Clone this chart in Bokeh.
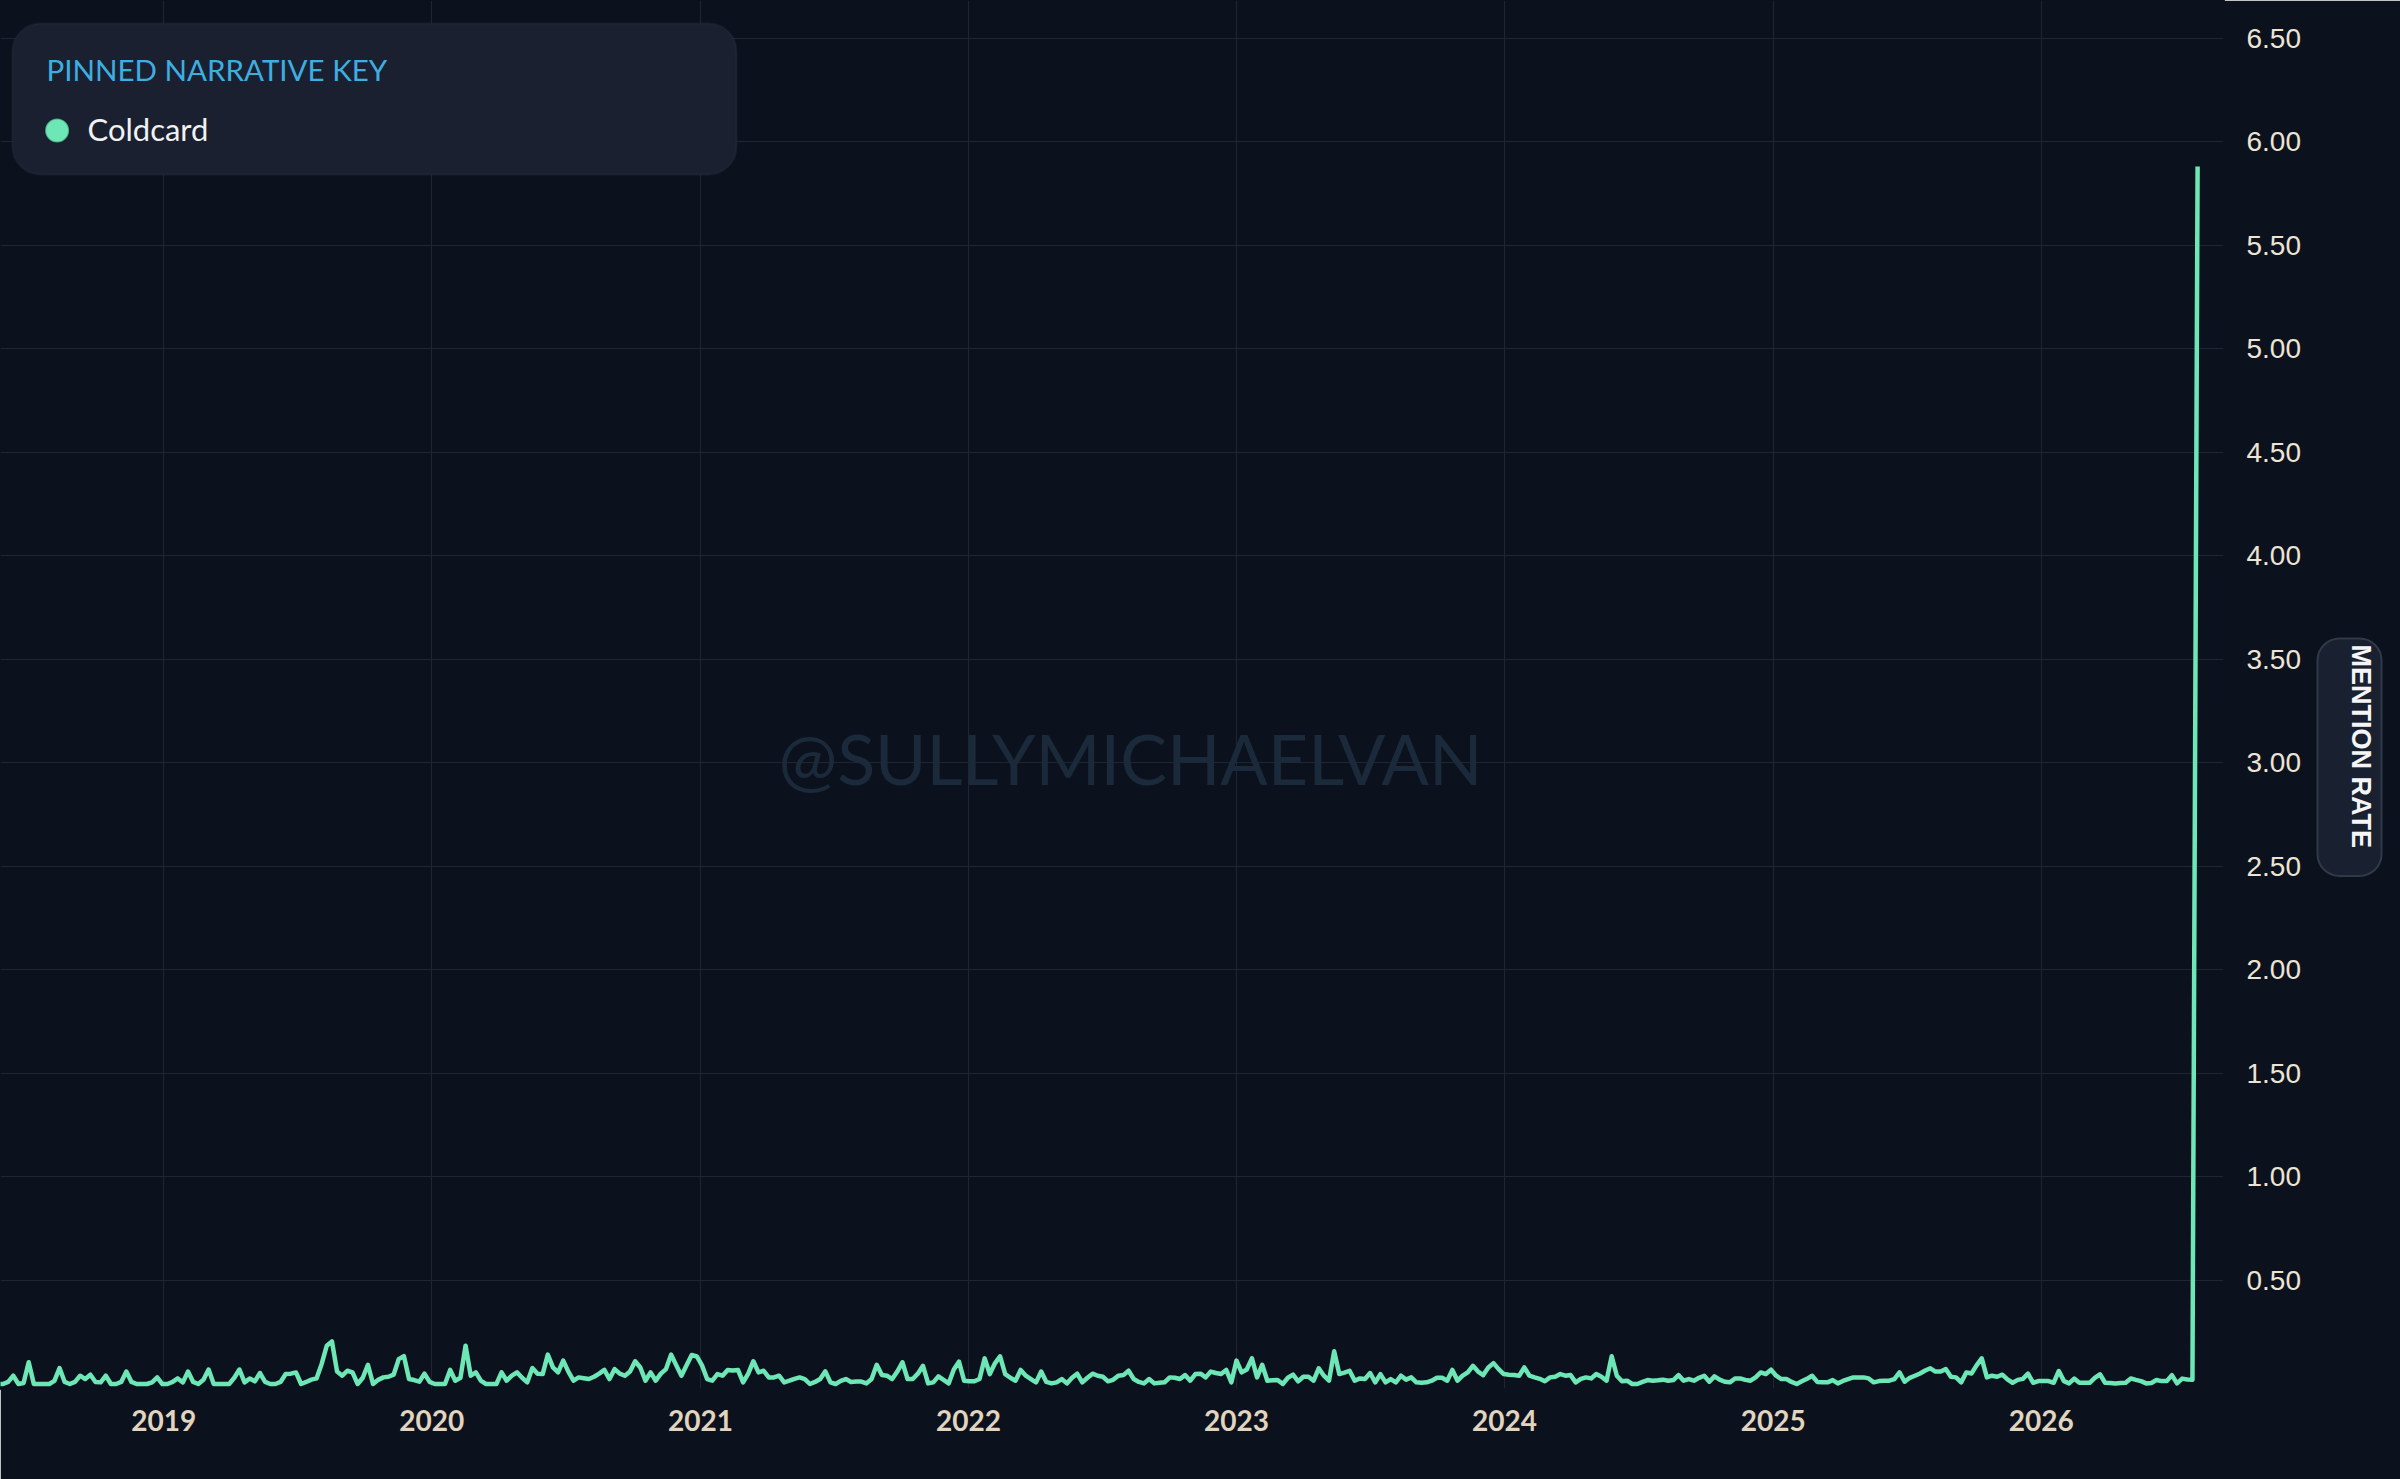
import pandas as pd
from bokeh.plotting import figure
from bokeh.models import (Range1d, FixedTicker, DatetimeTickFormatter, NumeralTickFormatter,
                          Label, BoxAnnotation, ColumnDataSource, Title)
from bokeh.embed import file_html
from bokeh.resources import INLINE

# ---------------- data (weekly mention rate) ----------------
first_week = "2018-05-20"

rate_2018 = [0, 0, 0.01, 0.04, 0, 0.005, 0.105, 0, 0, 0, 0, 0.015, 0.077, 0.01, 0, 0.01,
             0.04, 0.024, 0.045, 0.01, 0.008, 0.04, 0, 0, 0.01, 0.06, 0.01, 0, 0, 0, 0.008,
             0.032, 0]
rate_2019 = [0, 0.01, 0.027, 0.008, 0.06, 0.01, 0, 0.02, 0.07, 0, 0, 0, 0, 0.03, 0.07,
             0.008, 0.027, 0.013, 0.053, 0.01, 0, 0, 0.01, 0.048, 0.05, 0.056, 0, 0.01,
             0.021, 0.027, 0.097, 0.185, 0.206, 0.06, 0.04, 0.064, 0.056, 0, 0.03, 0.093,
             0, 0.02, 0.032, 0.035, 0.045, 0.12, 0.135, 0.024, 0.019, 0.011, 0.05, 0.01]
rate_2020 = [0, 0, 0, 0.068, 0.016, 0.03, 0.185, 0.04, 0.056, 0.015, 0, 0, 0, 0.056, 0.016,
             0.04, 0.056, 0.03, 0.008, 0.077, 0.05, 0.048, 0.142, 0.08, 0.056, 0.113, 0.06,
             0.016, 0.032, 0.028, 0.024, 0.035, 0.05, 0.068, 0.024, 0.072, 0.05, 0.04, 0.06,
             0.11, 0.08, 0.016, 0.056, 0.016, 0.05, 0.072, 0.142, 0.09, 0.04, 0.09, 0.14,
             0.133]
rate_2021 = [0.09, 0.024, 0.016, 0.048, 0.04, 0.068, 0.065, 0.068, 0.008, 0.05, 0.11, 0.056,
             0.064, 0.032, 0.032, 0.04, 0.008, 0.016, 0.025, 0.032, 0.024, 0, 0.01, 0.024,
             0.061, 0.008, 0, 0.015, 0.024, 0.01, 0.012, 0.012, 0.003, 0.024, 0.093, 0.043,
             0.04, 0.024, 0.06, 0.105, 0.024, 0.024, 0.05, 0.088, 0.003, 0.008, 0.037, 0.02,
             0.003, 0.07, 0.108, 0.016]
rate_2022 = [0.013, 0.013, 0.024, 0.124, 0.048, 0.1, 0.134, 0.048, 0.03, 0.016, 0.068, 0.04,
             0.024, 0.008, 0.06, 0.01, 0.003, 0.008, 0.024, 0.003, 0.03, 0.05, 0.008, 0.03,
             0.05, 0.04, 0.035, 0.013, 0.02, 0.04, 0.043, 0.064, 0.024, 0.01, 0.003, 0.024,
             0.003, 0.006, 0.008, 0.032, 0.03, 0.024, 0.043, 0.016, 0.048, 0.05, 0.032, 0.06,
             0.053, 0.048, 0.068, 0.008]
rate_2023 = [0.113, 0.056, 0.07, 0.124, 0.032, 0.093, 0.016, 0.018, 0.019, 0, 0.03, 0.045,
             0.013, 0.035, 0.035, 0.016, 0.076, 0.04, 0.016, 0.158, 0.048, 0.055, 0.064,
             0.016, 0.027, 0.024, 0.053, 0.008, 0.048, 0.008, 0.024, 0.008, 0.04, 0.021,
             0.032, 0.008, 0.006, 0.008, 0.016, 0.03, 0.03, 0.016, 0.068, 0.016, 0.04, 0.056,
             0.088, 0.06, 0.043, 0.08, 0.101, 0.072, 0.048]
rate_2024 = [0.045, 0.043, 0.04, 0.08, 0.04, 0.032, 0.025, 0.013, 0.032, 0.035, 0.048, 0.04,
             0.043, 0.008, 0.025, 0.032, 0.027, 0.048, 0.035, 0.016, 0.134, 0.04, 0.013,
             0.016, 0, 0, 0.01, 0.019, 0.016, 0.018, 0.021, 0.016, 0.019, 0.043, 0.016, 0.024,
             0.016, 0.03, 0.04, 0.011, 0.037, 0.021, 0.011, 0.008, 0.027, 0.027, 0.02, 0.016,
             0.032, 0.056, 0.048, 0.069]
rate_2025 = [0.04, 0.024, 0.024, 0.01, 0, 0.013, 0.025, 0.04, 0.01, 0.008, 0.008, 0.019,
             0.003, 0.015, 0.024, 0.032, 0.032, 0.032, 0.027, 0.008, 0.014, 0.016, 0.016,
             0.024, 0.056, 0.011, 0.03, 0.04, 0.051, 0.065, 0.076, 0.06, 0.06, 0.072, 0.035,
             0.032, 0.008, 0.056, 0.051, 0.09, 0.124, 0.032, 0.04, 0.035, 0.045, 0.022, 0.006,
             0.02, 0.025, 0.05, 0.006, 0.014]
rate_2026 = [0.014, 0.014, 0.006, 0.063, 0.014, 0.003, 0.026, 0.006, 0.006, 0.006, 0.03,
             0.047, 0.006, 0.005, 0.003, 0.005, 0.006, 0.027, 0.02, 0.014, 0.003, 0.005, 0.019,
             0.014, 0.014, 0.043, 0.003, 0.026, 0.022, 0.02, 5.88]

year_ticks = [2019, 2020, 2021, 2022, 2023, 2024, 2025, 2026]
rate_ticks = [0.5, 1.0, 1.5, 2.0, 2.5, 3.0, 3.5, 4.0, 4.5, 5.0, 5.5, 6.0, 6.5]

series_name = "Coldcard"
legend_title = "PINNED NARRATIVE KEY"
axis_title = "MENTION RATE"
watermark = "@SULLYMICHAELVAN"

# ---------------- build ----------------
rate = (rate_2018 + rate_2019 + rate_2020 + rate_2021 + rate_2022 + rate_2023
        + rate_2024 + rate_2025 + rate_2026)
dates = pd.date_range(first_week, periods=len(rate), freq="7D")
src = ColumnDataSource(dict(date=dates, rate=rate))

BG = "#0c121d"
GRID = "#1f2633"
MINT = "#6ee7b7"
PANEL = "#1a2030"
PANEL_EDGE = "#2b3444"

W, H = 2400, 1479
FB = 1388  # frame bottom (frame top at 0)

p = figure(width=W, height=H, x_axis_type="datetime", y_axis_location="right",
           x_range=Range1d(pd.Timestamp("2018-05-23 14:00"), pd.Timestamp("2026-09-06 07:00")),
           y_range=Range1d(-0.0217, 6.682),
           output_backend="svg", toolbar_location=None,
           min_border_left=0, min_border_top=0, min_border_right=W - 2223,
           min_border_bottom=H - FB,
           background_fill_color=BG, border_fill_color=BG,
           outline_line_color=BG, outline_line_width=3)

p.line("date", "rate", source=src, line_color=MINT, line_width=4.5, line_join="round")

# axes
p.xaxis.ticker = FixedTicker(ticks=[pd.Timestamp(f"{y}-01-01").value // 10**6 for y in year_ticks])
p.xaxis.formatter = DatetimeTickFormatter(years="%Y", months="%Y", days="%Y", hours="%Y",
                                          hourmin="%Y", minutes="%Y", minsec="%Y",
                                          seconds="%Y", milliseconds="%Y", microseconds="%Y")
p.yaxis.ticker = FixedTicker(ticks=rate_ticks)
p.yaxis.formatter = NumeralTickFormatter(format="0.00")

for ax in (p.xaxis[0], p.yaxis[0]):
    ax.axis_line_color = None
    ax.major_tick_line_color = None
    ax.minor_tick_line_color = None
    ax.major_tick_out = 0
    ax.major_tick_in = 0
    ax.minor_tick_out = 0

p.xaxis.major_label_text_font = "Lato"
p.xaxis.major_label_text_font_style = "bold"
p.xaxis.major_label_text_font_size = "28px"
p.xaxis.major_label_text_color = "#e2d5bf"
p.xaxis.major_label_standoff = 21

p.yaxis.major_label_text_font = "Liberation Sans"
p.yaxis.major_label_text_font_size = "28px"
p.yaxis.major_label_text_color = "#ece4d4"
p.yaxis.major_label_standoff = 23

p.xgrid.grid_line_color = GRID
p.ygrid.grid_line_color = GRID
p.xgrid.grid_line_width = 1
p.ygrid.grid_line_width = 1

# axis title badge on the right (side panel, outside the tick labels)
p.add_layout(Title(text=axis_title, align="left", offset=638, standoff=28,
                   text_font="Liberation Sans", text_font_style="bold",
                   text_font_size="27px", text_color="#f5f5f5",
                   background_fill_color="#192030", border_line_color="#2f3948",
                   border_line_width=2, border_radius=22, padding=(6, 28, 6, 28)),
             "right")

# watermark
p.add_layout(Label(x=1130, y=FB - 757, x_units="screen", y_units="screen", text=watermark,
                   text_font="Lato", text_font_size="70px", text_color="#1b2a3b",
                   text_align="center", text_baseline="middle", level="underlay"))

# legend panel (frame-relative screen coordinates)
p.add_layout(BoxAnnotation(left=12, right=736, top=FB - 23, bottom=FB - 174,
                           left_units="screen", right_units="screen",
                           top_units="screen", bottom_units="screen",
                           fill_color=PANEL, fill_alpha=1.0,
                           line_color=PANEL_EDGE, line_width=2, border_radius=28))
p.add_layout(Label(x=46, y=FB - 69, x_units="screen", y_units="screen", text=legend_title,
                   text_font="Lato", text_font_size="29.5px", text_color="#3eaee0",
                   text_align="left", text_baseline="alphabetic"))
p.add_layout(BoxAnnotation(left=44.6, right=68.6, top=FB - 118, bottom=FB - 142,
                           left_units="screen", right_units="screen",
                           top_units="screen", bottom_units="screen",
                           fill_color=MINT, fill_alpha=1.0,
                           line_color="#0d1a1f", line_width=2, border_radius=12))
p.add_layout(Label(x=87, y=FB - 128.5, x_units="screen", y_units="screen", text=series_name,
                   text_font="Lato", text_font_size="31px", text_color="#f1f1f1",
                   text_align="left", text_baseline="alphabetic"))

open("out.html", "w").write(file_html(p, INLINE))
